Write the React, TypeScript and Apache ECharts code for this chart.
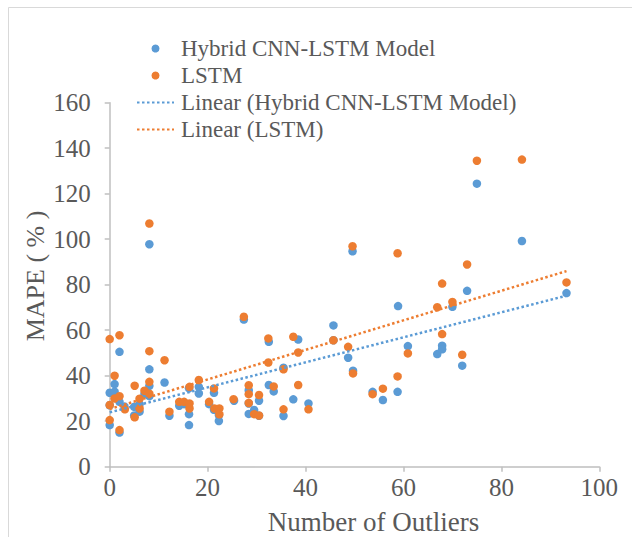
import React, { useEffect, useRef } from "react";
import * as echarts from "echarts";

const hybridName = "Hybrid CNN-LSTM Model";
const lstmName = "LSTM";
const hybridTrendName = "Linear (Hybrid CNN-LSTM Model)";
const lstmTrendName = "Linear (LSTM)";

const xTicks = [0, 20, 40, 60, 80, 100];
const yTicks = [0, 20, 40, 60, 80, 100, 120, 140, 160];

// [number of outliers, MAPE %]
const hybridPoints: [number, number][] = [
  [0, 32.5], [0, 18.3], [0, 27.0], [1, 36.3], [1, 33.0], [2, 50.5], [2, 28.5], [2, 15.0],
  [3, 26.5], [5, 26.3], [5, 22.5], [6.1, 24.2], [6.1, 27.5], [7.1, 32.0], [8.1, 97.8],
  [8.1, 42.8], [8.1, 35.5], [8.1, 31.0], [11.2, 37.0], [12.2, 22.4], [14.2, 26.8],
  [15.2, 27.5], [16.2, 34.5], [16.2, 23.1], [16.2, 18.3], [18.2, 35.1], [18.2, 32.2],
  [20.3, 27.5], [21.3, 32.5], [21.3, 25.0], [22.3, 22.7], [22.3, 20.1], [25.4, 29.0],
  [27.4, 64.7], [28.4, 33.5], [28.4, 27.8], [28.4, 23.2], [29.5, 24.9], [30.5, 29.0],
  [30.5, 22.4], [32.5, 54.9], [32.5, 35.9], [33.5, 33.1], [35.5, 43.5], [35.5, 22.3],
  [37.5, 29.6], [38.5, 55.9], [40.6, 27.8], [45.7, 62.1], [45.7, 55.6], [48.7, 47.9],
  [49.6, 94.7], [49.7, 42.2], [53.7, 32.9], [55.8, 29.3], [58.9, 70.6], [58.8, 32.9],
  [60.9, 53.0], [66.9, 49.5], [67.9, 53.2], [67.9, 51.6], [70.0, 70.3], [72.0, 44.4],
  [73.0, 77.3], [75.0, 124.4], [84.2, 99.2], [93.3, 76.3],
];

const lstmPoints: [number, number][] = [
  [0, 56.1], [0, 27.1], [0, 20.5], [1, 40.0], [1, 30.0], [2, 57.8], [2, 31.0], [2, 16.1],
  [3.1, 25.2], [5.1, 35.6], [5.1, 21.7], [6.1, 29.9], [6.1, 25.6], [7.1, 33.4], [8.1, 106.9],
  [8.1, 50.8], [8.1, 37.3], [8.1, 32.1], [11.2, 46.8], [12.2, 24.2], [14.2, 28.5],
  [15.2, 28.5], [16.3, 35.1], [16.3, 27.8], [16.3, 25.6], [18.2, 38.1], [20.3, 28.5],
  [21.3, 34.4], [21.4, 25.6], [22.4, 25.6], [22.4, 23.0], [25.3, 29.7], [27.4, 65.9],
  [28.4, 35.8], [28.4, 31.9], [28.4, 28.0], [29.5, 23.1], [30.5, 31.5], [30.5, 22.5],
  [32.4, 56.4], [32.4, 45.8], [33.5, 35.3], [35.5, 42.8], [35.5, 25.2], [37.5, 57.1],
  [38.5, 50.2], [38.5, 35.9], [40.6, 25.2], [45.7, 55.6], [48.7, 52.7], [49.6, 96.9],
  [49.7, 41.0], [53.7, 31.9], [55.8, 34.3], [58.8, 93.8], [58.8, 39.7], [60.9, 49.8],
  [66.9, 70.1], [67.9, 80.5], [67.9, 58.3], [70.0, 72.4], [72.0, 49.2], [73.0, 88.9],
  [75.0, 134.5], [84.2, 135.0], [93.3, 81.0],
];

const BLUE = "#5B9BD5";
const ORANGE = "#ED7D31";
const TEXT = "#595959";
const FONT = "'Liberation Serif', 'Times New Roman', serif";

function trend(points: [number, number][]): [number, number][] {
  const n = points.length;
  let sx = 0, sy = 0, sxx = 0, sxy = 0;
  for (const [x, y] of points) {
    sx += x; sy += y; sxx += x * x; sxy += x * y;
  }
  const b = (n * sxy - sx * sy) / (n * sxx - sx * sx);
  const a = (sy - b * sx) / n;
  const xs = points.map((p) => p[0]);
  const x0 = Math.min(...xs);
  const x1 = Math.max(...xs);
  return [[x0, a + b * x0], [x1, a + b * x1]];
}

export default function App() {
  const ref = useRef<HTMLDivElement>(null);
  useEffect(() => {
    if (!ref.current) return;
    const chart = echarts.init(ref.current, undefined, { renderer: "svg" });
    chart.setOption({
      animation: false,
      backgroundColor: "#ffffff",
      grid: { left: 109.7, right: 32.7, top: 102.7, bottom: 70.3, containLabel: false },
      legend: {
        orient: "vertical",
        left: 136,
        top: 35,
        padding: 0,
        itemGap: 0,
        itemWidth: 37,
        itemHeight: 8,
        data: [
          { name: hybridName, icon: "circle" },
          { name: lstmName, icon: "circle" },
          { name: hybridTrendName, itemStyle: { opacity: 0 } },
          { name: lstmTrendName, itemStyle: { opacity: 0 } },
        ],
        textStyle: { fontFamily: FONT, fontSize: 23, color: TEXT, lineHeight: 27, padding: [0, 0, 0, 2] },
      },
      xAxis: {
        type: "value",
        min: xTicks[0],
        max: xTicks[xTicks.length - 1],
        interval: 20,
        splitLine: { show: false },
        axisLine: { show: true, onZero: false, lineStyle: { color: "#BFBFBF", width: 1.5 } },
        axisTick: { show: true, length: 5, lineStyle: { color: "#BFBFBF", width: 1.5 } },
        axisLabel: { fontFamily: FONT, fontSize: 25, color: TEXT, margin: 8 },
      },
      yAxis: {
        type: "value",
        min: yTicks[0],
        max: yTicks[yTicks.length - 1],
        interval: 20,
        splitLine: { show: false },
        axisLine: { show: true, onZero: false, lineStyle: { color: "#BFBFBF", width: 1.5 } },
        axisTick: { show: true, length: 5, lineStyle: { color: "#BFBFBF", width: 1.5 } },
        axisLabel: { fontFamily: FONT, fontSize: 25, color: TEXT, margin: 19 },
      },
      graphic: [
        {
          type: "rect",
          silent: true,
          shape: { x: 8.5, y: 7.5, width: 700, height: 700 },
          style: { fill: "none", stroke: "#D9D9D9", lineWidth: 1 },
        },
        {
          type: "text",
          x: 35,
          y: 276,
          rotation: Math.PI / 2,
          style: {
            text: "MAPE ( % )",
            fontFamily: FONT,
            fontSize: 26,
            fill: TEXT,
            align: "center",
            verticalAlign: "middle",
          },
        },
        {
          type: "text",
          x: 373.5,
          y: 522,
          style: {
            text: "Number of Outliers",
            fontFamily: FONT,
            fontSize: 27,
            fill: TEXT,
            align: "center",
            verticalAlign: "middle",
          },
        },
      ],
      series: [
        {
          name: hybridName,
          type: "scatter",
          data: hybridPoints,
          symbolSize: 8.5,
          itemStyle: { color: BLUE, opacity: 1 },
          z: 3,
        },
        {
          name: lstmName,
          type: "scatter",
          data: lstmPoints,
          symbolSize: 8.5,
          itemStyle: { color: ORANGE, opacity: 1 },
          z: 4,
        },
        {
          name: hybridTrendName,
          type: "line",
          data: trend(hybridPoints),
          symbol: "none",
          showSymbol: false,
          itemStyle: { color: BLUE },
          lineStyle: { color: BLUE, width: 2.5, type: [2.5, 2.5] },
          z: 5,
        },
        {
          name: lstmTrendName,
          type: "line",
          data: trend(lstmPoints),
          symbol: "none",
          showSymbol: false,
          itemStyle: { color: ORANGE },
          lineStyle: { color: ORANGE, width: 2.5, type: [2.5, 2.5] },
          z: 5,
        },
      ],
    });
    return () => chart.dispose();
  }, []);
  return (
    <div
      ref={ref}
      style={{ position: "absolute", left: 0, top: 0, width: 632, height: 537, background: "#fff" }}
    />
  );
}
